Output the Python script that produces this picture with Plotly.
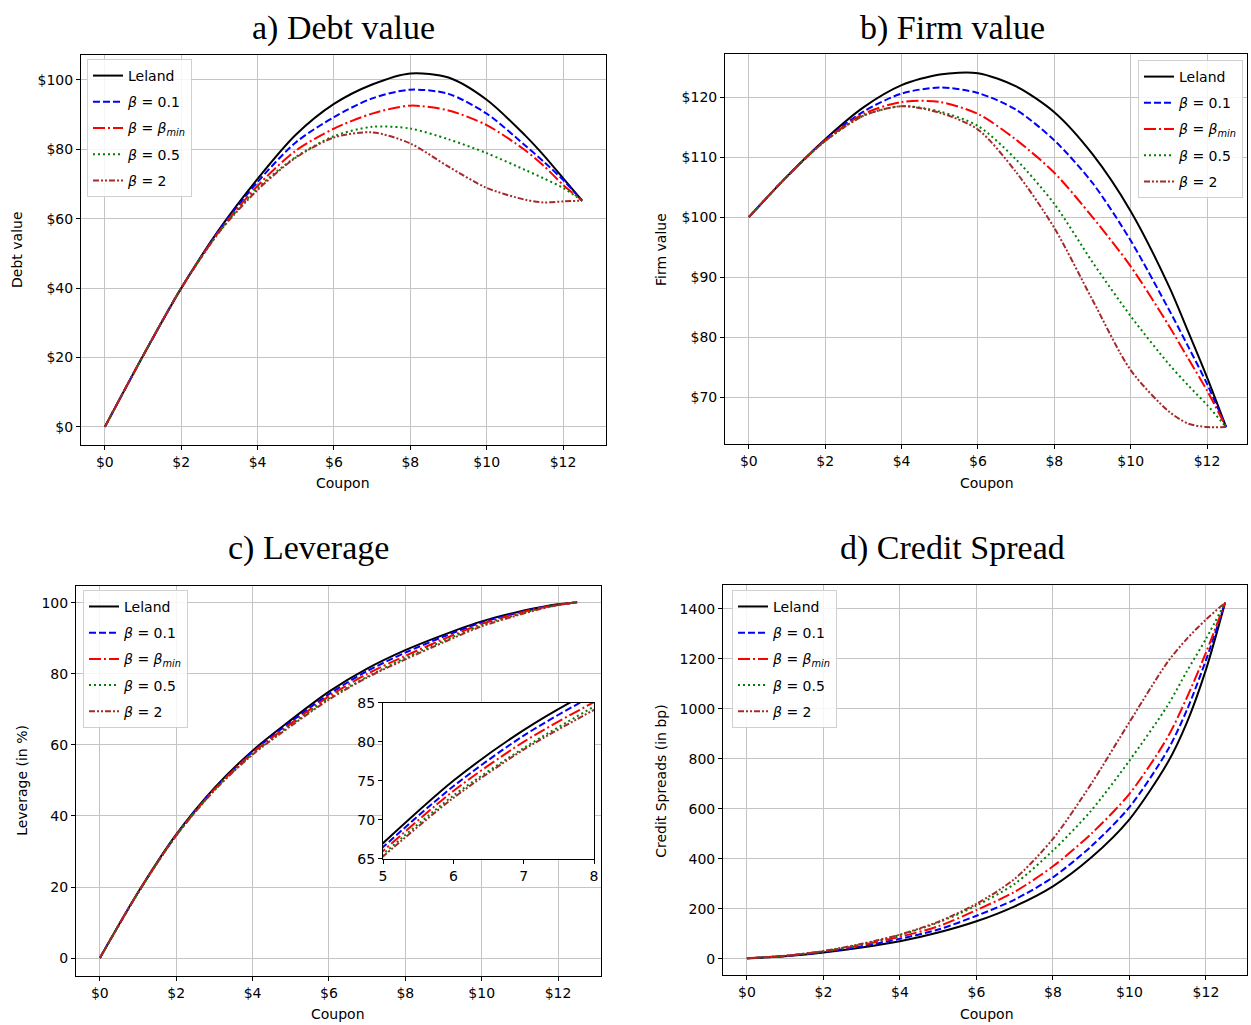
import plotly.graph_objects as go

W, H = 1251, 1025

coupon = [0, 1, 2, 3, 4, 5, 6, 7, 8, 9, 10, 11, 11.5, 12, 12.5]
series_names = ["Leland", "<i>β</i> = 0.1", "<i>β</i> = <i>β<sub>min</sub></i>", "<i>β</i> = 0.5", "<i>β</i> = 2"]

# a) Debt value
debt_leland = [0, 20.5, 40, 57, 71.5, 84.2, 93.1, 98.7, 101.9, 100.7, 94.3, 84.1, 78.2, 71.7, 65.2]
debt_b01 = [0, 20.5, 40, 56.8, 70.6, 82.0, 89.3, 94.7, 97.2, 96.0, 90.3, 81.2, 76.4, 71.2, 65.2]
debt_bmin = [0, 20.5, 40, 56.5, 69.5, 79.6, 86.0, 90.3, 92.6, 91.2, 87.0, 79.8, 75.2, 69.8, 65.2]
debt_b05 = [0, 20.5, 40, 56.3, 68.8, 77.8, 83.8, 86.5, 86.0, 82.9, 78.9, 74.1, 71.6, 68.9, 65.2]
debt_b2 = [0, 20.5, 40, 56.2, 68.3, 77.6, 83.4, 84.9, 81.7, 75.0, 68.9, 65.5, 64.7, 65.0, 65.2]

# b) Firm value
firm_leland = [100, 106.8, 113, 118.3, 122, 123.8, 124.0, 121.8, 117.5, 110.5, 101, 88.5, 81, 73.3, 65]
firm_b01 = [100, 106.8, 112.9, 117.6, 120.6, 121.6, 120.7, 117.9, 112.8, 105.7, 96.1, 84.6, 78.5, 72.2, 65]
firm_bmin = [100, 106.8, 112.8, 117.2, 119.2, 119.2, 117.2, 112.9, 107.4, 100.0, 91.8, 81.9, 76.5, 71.1, 65]
firm_b05 = [100, 106.8, 112.7, 116.9, 118.5, 117.6, 115.2, 109.6, 102.2, 92.5, 83.5, 75.5, 72, 68.7, 65]
firm_b2 = [100, 106.8, 112.7, 116.9, 118.5, 117.4, 114.6, 107.5, 98.2, 86.2, 74.5, 67.6, 65.6, 65.0, 65]

# c) Leverage (in %)
lev_leland = [0, 18.5, 34.8, 47.9, 58.4, 67.0, 75.0, 81.5, 86.7, 91.0, 94.8, 97.6, 98.7, 99.6, 100.2]
lev_b01 = [0, 18.4, 34.7, 47.7, 58.1, 66.5, 74.3, 80.8, 86.0, 90.5, 94.5, 97.4, 98.6, 99.5, 100.2]
lev_bmin = [0, 18.4, 34.6, 47.5, 57.8, 66.0, 73.7, 80.0, 85.1, 89.8, 94.1, 97.2, 98.5, 99.5, 100.2]
lev_b05 = [0, 18.4, 34.5, 47.3, 57.5, 65.6, 73.1, 79.2, 84.5, 89.3, 93.7, 96.9, 98.3, 99.4, 100.2]
lev_b2 = [0, 18.4, 34.5, 47.2, 57.3, 65.3, 72.8, 79.0, 84.1, 88.9, 93.4, 96.7, 98.2, 99.4, 100.2]

# d) Credit spreads (in bp)
cs_leland = [2, 10, 25, 45, 70, 105, 150, 210, 290, 405, 558, 785, 945, 1157, 1425]
cs_b01 = [2, 11, 27, 50, 80, 117, 172, 237, 326, 450, 607, 835, 995, 1195, 1425]
cs_bmin = [2, 12, 29, 55, 88, 130, 195, 268, 370, 500, 660, 887, 1045, 1225, 1425]
cs_b05 = [2, 12, 30, 58, 95, 145, 213, 300, 433, 593, 793, 1014, 1150, 1280, 1425]
cs_b2 = [2, 12, 31, 60, 97, 148, 220, 320, 480, 700, 947, 1188, 1280, 1357, 1425]

x_ticks = [0, 2, 4, 6, 8, 10, 12]

colors = ["#000000", "#0000ff", "#ff0000", "#008000", "#a52a2a"]
dashes = ["solid", "7px,3px", "12px,3px,2px,3px", "2px,3px", "6px,2px,2px,2px,2px,2px"]

panels = [
    [debt_leland, debt_b01, debt_bmin, debt_b05, debt_b2],
    [firm_leland, firm_b01, firm_bmin, firm_b05, firm_b2],
    [lev_leland, lev_b01, lev_bmin, lev_b05, lev_b2],
    [cs_leland, cs_b01, cs_bmin, cs_b05, cs_b2],
]

# the page is photographed slightly scaled; map target picture pixels to paper fractions
OX, SX, OY, SY = 4.0, 0.9936, 8.0, 0.9846

def px(x):
    return min(1.0, max(0.0, ((x - OX) / SX) / W))

def py(y):
    return min(1.0, max(0.0, 1 - ((y - OY) / SY) / H))

def rendered_x(frac):
    return OX + SX * frac * W

fig = go.Figure()
legend_ids = ["legend", "legend2", "legend3", "legend4"]
for p, data in enumerate(panels):
    ax = "" if p == 0 else str(p + 1)
    for i, ys in enumerate(data):
        fig.add_trace(go.Scatter(
            x=coupon, y=ys, mode="lines", name=series_names[i],
            line=dict(color=colors[i], width=2, dash=dashes[i], shape="spline", smoothing=0.8),
            xaxis="x" + ax, yaxis="y" + ax,
            legend=legend_ids[p], legendgroup=f"g{p}_{i}", showlegend=True,
        ))

# inset in panel c
for i, ys in enumerate(panels[2]):
    fig.add_trace(go.Scatter(
        x=coupon, y=ys, mode="lines", name=series_names[i],
        line=dict(color=colors[i], width=2, dash=dashes[i], shape="spline", smoothing=0.8),
        xaxis="x5", yaxis="y5", showlegend=False,
    ))

font_tick = dict(family="DejaVu Sans", size=14, color="#000000")

def xaxis(left, right, anchor):
    dom = [px(left), px(right)]
    upp = 13.75 / (right - left)
    r0 = -0.625 + (rendered_x(dom[0]) - left) * upp
    r1 = -0.625 + (rendered_x(dom[1]) - left) * upp
    return dict(domain=dom, anchor=anchor, range=[r0, r1], tickvals=x_ticks,
                ticktext=[f"${v}" for v in x_ticks], showgrid=True, gridcolor="#c4c4c4", gridwidth=1,
                showline=True, linecolor="#000000", linewidth=1, mirror=True,
                ticks="outside", ticklen=4, tickcolor="#000000", tickfont=font_tick, zeroline=False)

def yaxis(top, bottom, anchor, rng, dtick, prefix=""):
    return dict(domain=[py(bottom), py(top)], anchor=anchor, range=rng, dtick=dtick, tick0=0, tickprefix=prefix,
                showgrid=True, gridcolor="#c4c4c4", gridwidth=1,
                showline=True, linecolor="#000000", linewidth=1, mirror=True,
                ticks="outside", ticklen=4, tickcolor="#000000", tickfont=font_tick, zeroline=False)

legend_common = dict(bgcolor="rgba(255,255,255,0.85)", bordercolor="#d0d0d0", borderwidth=1,
                     font=dict(family="DejaVu Sans", size=14, color="#000000"),
                     tracegroupgap=5, itemwidth=30, xanchor="left", yanchor="top")

fig.update_layout(
    width=W, height=H, margin=dict(l=0, r=0, t=0, b=0),
    paper_bgcolor="white", plot_bgcolor="white",
    xaxis=xaxis(81, 606, "y"),
    yaxis=yaxis(55, 445, "x", [-5.19, 107.2], 20, "$"),
    xaxis2=xaxis(725, 1250, "y2"),
    yaxis2=yaxis(54, 444, "x2", [62.2, 127.2], 10, "$"),
    xaxis3=xaxis(76, 601, "y3"),
    yaxis3=yaxis(586, 976, "x3", [-5.0, 104.8], 20),
    xaxis4=xaxis(723, 1249, "y4"),
    yaxis4=yaxis(585, 975, "x4", [-64, 1496], 200),
    xaxis5=dict(domain=[px(383), px(594)], anchor="y5", range=[5, 8], dtick=1, tick0=5,
                showgrid=False, showline=True, linecolor="#000000", linewidth=1, mirror=True,
                ticks="outside", ticklen=4, tickcolor="#000000", tickfont=font_tick, zeroline=False),
    yaxis5=dict(domain=[py(859), py(703)], anchor="x5", range=[65, 85], dtick=5, tick0=65,
                showgrid=False, showline=True, linecolor="#000000", linewidth=1, mirror=True,
                ticks="outside", ticklen=4, tickcolor="#000000", tickfont=font_tick, zeroline=False),
    legend=dict(x=px(87), y=py(59), **legend_common),
    legend2=dict(x=px(1243), y=py(60), **{**legend_common, "xanchor": "right"}),
    legend3=dict(x=px(83), y=py(590), **legend_common),
    legend4=dict(x=px(732), y=py(590), **legend_common),
    showlegend=True,
)

title_font = dict(family="Liberation Serif", size=34, color="#000000")
label_font = dict(family="DejaVu Sans", size=14, color="#000000")

# top titles: anchored at their top so their box stays inside the page
for text, x in [("a) Debt value", 343), ("b) Firm value", 952)]:
    fig.add_annotation(text=text, x=px(x), y=1.0, xref="paper", yref="paper",
                       showarrow=False, font=title_font, xanchor="center", yanchor="top",
                       borderpad=0)

annots = [
    ("c) Leverage", 308, 548, title_font, 0),
    ("d) Credit Spread", 952, 548, title_font, 0),
    ("Coupon", 343, 483, label_font, 0),
    ("Coupon", 987, 483, label_font, 0),
    ("Coupon", 338, 1014, label_font, 0),
    ("Coupon", 987, 1014, label_font, 0),
    ("Debt value", 17, 250, label_font, -90),
    ("Firm value", 661, 250, label_font, -90),
    ("Leverage (in %)", 22, 781, label_font, -90),
    ("Credit Spreads (in bp)", 661, 781, label_font, -90),
]
for text, x, y, f, ang in annots:
    fig.add_annotation(text=text, x=px(x), y=py(y), xref="paper", yref="paper",
                       showarrow=False, font=f, textangle=ang, xanchor="center", yanchor="middle")

fig.write_html("out.html")
